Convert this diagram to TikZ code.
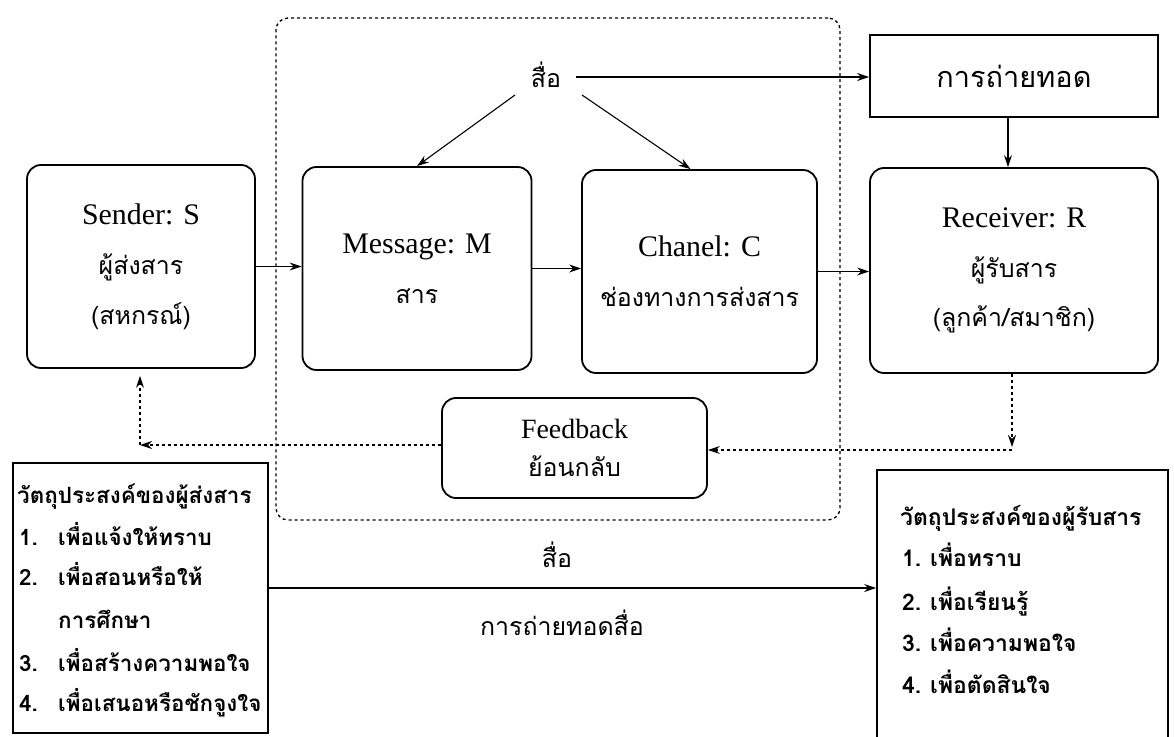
\documentclass[tikz,border=0pt]{standalone}
\usepackage{fontspec}
\setmainfont{Liberation Serif}
\newfontfamily\thai[Script=Thai]{Loma}
\usetikzlibrary{arrows.meta}
\newcommand{\thtxt}[1]{{\thai\fontsize{25}{50}\selectfont #1}}
\begin{document}
\begin{tikzpicture}[x=1bp,y=-1bp,
 rbox/.style={draw, line width=1.8bp, rounded corners=14bp, align=center, inner sep=0,
   font=\fontsize{30}{50}\selectfont},
 pbox/.style={draw, line width=1.6bp, inner sep=0},
 arr/.style={line width=1.1bp, -{Stealth[length=12bp,width=8bp]}},
 darr/.style={line width=1.2bp, dash pattern=on 3bp off 3bp, -{Stealth[length=12bp,width=8bp]}},
 tlbl/.style={font=\thai\fontsize{25}{28}\selectfont, inner sep=2bp},
 litem/.style={anchor=base west, font=\thai\bfseries\fontsize{22.5}{26}\selectfont, inner sep=0},
 ritem/.style={anchor=base west, font=\thai\bfseries\fontsize{23}{26}\selectfont, inner sep=0}
]
\useasboundingbox (0,0) rectangle (1174,737);
\fill[white] (0,0) rectangle (1174,737);

% media container
\node[draw, line width=1.3bp, dash pattern=on 3bp off 3bp, rounded corners=12bp,
  minimum width=564bp, minimum height=502bp] (media) at (558,269) {};

% main boxes
\node[rbox, minimum width=228bp, minimum height=203bp] (S) at (141,266.5)
  {Sender: S\\\thtxt{ผู้ส่งสาร}\\\thtxt{(สหกรณ์)}};
\node[rbox, minimum width=229bp, minimum height=203bp] (M) at (417,268.5)
  {Message: M\\\thtxt{สาร}};
\node[rbox, minimum width=235bp, minimum height=203bp] (C) at (699.5,271.5)
  {Chanel: C\\\thtxt{ช่องทางการส่งสาร}};
\node[rbox, minimum width=288bp, minimum height=205bp] (R) at (1014,270.5)
  {Receiver:\,\,R\\\thtxt{ผู้รับสาร}\\\thtxt{(ลูกค้า/สมาชิก)}};

\node[tlbl] (m1) at (546,75) {สื่อ};
\node[pbox, minimum width=288bp, minimum height=82bp, font=\thai\fontsize{29}{32}\selectfont] (T) at (1014,76) {การถ่ายทอด};

\node[rbox, minimum width=265bp, minimum height=100bp, font=\fontsize{28}{38}\selectfont] (F) at (574.5,448)
  {Feedback\\{\thai\fontsize{25}{38}\selectfont ย้อนกลับ}};

% arrows top
\draw[arr] ([xshift=30bp,yshift=-2bp]m1.center) -- ([yshift=-2bp]m1.center -| T.west);
\draw[arr] ([xshift=-31bp,yshift=-20bp]m1.center) -- (M.north);
\draw[arr] ([xshift=36bp,yshift=-20bp]m1.center) -- ([xshift=-9bp]C.north);
\draw[arr] ([xshift=-6bp]T.south) -- ([xshift=-6bp]T.south |- R.north);

\draw[arr] (S.east) -- (S.east -| M.west);
\draw[arr] (M.east) -- (M.east -| C.west);
\draw[arr] (C.east) -- (C.east -| R.west);

% feedback loop
\coordinate (rc) at (1012,450);
\coordinate (lc) at (140,445);
\draw[darr] (R.south -| rc) -- ([yshift=3bp]rc);
\draw[darr] (rc) -- (rc -| F.east);
\draw[darr] (F.west |- lc) -- (lc);
\draw[darr, shorten >=7bp] (lc) -- (lc |- S.south);

% bottom boxes
\node[pbox, minimum width=255bp, minimum height=270bp] (L) at (140.5,598) {};
\node[pbox, minimum width=291bp, minimum height=280bp] (RB) at (1022.5,610) {};

\node[litem] (l0) at (17,503) {วัตถุประสงค์ของผู้ส่งสาร};
\node[litem] (l1) at (19,545) {\makebox[39bp][l]{1.}เพื่อแจ้งให้ทราบ};
\node[litem] (l2) at (19,585) {\makebox[39bp][l]{2.}เพื่อสอนหรือให้};
\node[litem] (l3) at (58,628) {การศึกษา};
\node[litem] (l4) at (19,671) {\makebox[39bp][l]{3.}เพื่อสร้างความพอใจ};
\node[litem] (l5) at (19,711) {\makebox[39bp][l]{4.}เพื่อเสนอหรือชักจูงใจ};

\node[ritem] (r0) at (900,525) {วัตถุประสงค์ของผู้รับสาร};
\node[ritem] (r1) at (902,566) {\makebox[28bp][l]{1.}เพื่อทราบ};
\node[ritem] (r2) at (902,610) {\makebox[28bp][l]{2.}เพื่อเรียนรู้};
\node[ritem] (r3) at (902,651) {\makebox[28bp][l]{3.}เพื่อความพอใจ};
\node[ritem] (r4) at (902,693) {\makebox[28bp][l]{4.}เพื่อตัดสินใจ};

\coordinate (mid) at (575,588);
\draw[arr] (L.east |- mid) -- (RB.west |- mid);
\node[tlbl, font=\thai\fontsize{25}{28}\selectfont] (m2) at (557,555) {สื่อ};
\node[tlbl, font=\thai\fontsize{25}{28}\selectfont] (m3) at (562,623) {การถ่ายทอดสื่อ};
\end{tikzpicture}
\end{document}
